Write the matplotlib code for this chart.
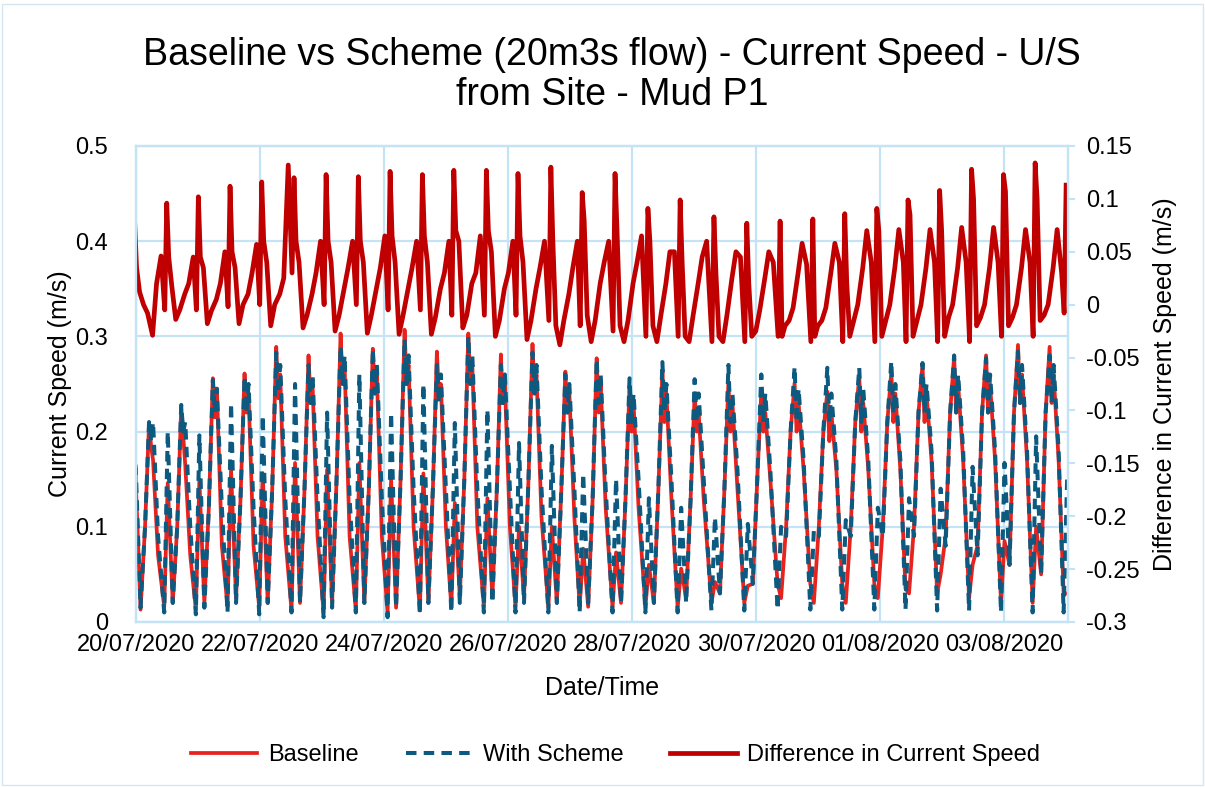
"""
Baseline vs scheme current speed at the U/S Mud P1 point, with the
difference on a second axis. Values read off the original Excel chart.
"""

import matplotlib
import numpy as np

matplotlib.use("Agg")
import matplotlib.pyplot as plt
from matplotlib.patches import Rectangle


START = np.datetime64("2020-07-20T00:00")
END_DAYS = 15.03

# time of each tidal cycle's difference spike (days after START)
cycle_days = [
    -0.024, 0.495, 1.005, 1.516, 2.027, 2.548, 3.065, 3.585, 4.097, 4.618,
    5.125, 5.650, 6.160, 6.690, 7.195, 7.725, 8.255, 8.775, 9.320, 9.850,
    10.387, 10.915, 11.430, 11.947, 12.450, 12.960, 13.475, 13.990, 14.500,
    15.000,
]

# hours from the spike to each key point of a cycle
speed_offsets_h = [-0.97, 0.39, 2.32, 4.06, 5.61, 6.39, 7.16, 9.10]
diff_offsets_h = [-0.77, 0.0, 0.77, 1.94, 3.48, 5.03, 6.97, 8.52, 10.26]

# per cycle: slack, ebb hump, slack, rise, peak, dip, shoulder, fall
baseline_cycles = [
    [0.020, 0.153, 0.013, 0.100, 0.209, 0.185, 0.170, 0.070],
    [0.016, 0.146, 0.020, 0.100, 0.226, 0.195, 0.165, 0.070],
    [0.013, 0.149, 0.020, 0.120, 0.256, 0.215, 0.245, 0.080],
    [0.016, 0.160, 0.025, 0.130, 0.261, 0.220, 0.240, 0.080],
    [0.015, 0.156, 0.020, 0.140, 0.289, 0.235, 0.260, 0.090],
    [0.012, 0.167, 0.020, 0.140, 0.280, 0.230, 0.250, 0.090],
    [0.010, 0.160, 0.020, 0.150, 0.303, 0.250, 0.270, 0.090],
    [0.012, 0.167, 0.020, 0.140, 0.287, 0.240, 0.260, 0.090],
    [0.010, 0.150, 0.015, 0.150, 0.307, 0.250, 0.270, 0.100],
    [0.012, 0.156, 0.020, 0.140, 0.284, 0.240, 0.250, 0.100],
    [0.016, 0.125, 0.026, 0.150, 0.303, 0.250, 0.270, 0.100],
    [0.016, 0.130, 0.026, 0.140, 0.281, 0.230, 0.250, 0.100],
    [0.016, 0.100, 0.025, 0.150, 0.292, 0.240, 0.260, 0.110],
    [0.015, 0.100, 0.020, 0.140, 0.263, 0.220, 0.240, 0.110],
    [0.016, 0.077, 0.016, 0.130, 0.277, 0.220, 0.250, 0.120],
    [0.015, 0.073, 0.020, 0.130, 0.247, 0.200, 0.230, 0.120],
    [0.015, 0.060, 0.020, 0.140, 0.263, 0.210, 0.240, 0.130],
    [0.015, 0.056, 0.025, 0.130, 0.240, 0.200, 0.220, 0.130],
    [0.020, 0.042, 0.030, 0.140, 0.252, 0.200, 0.230, 0.140],
    [0.020, 0.038, 0.040, 0.150, 0.242, 0.200, 0.220, 0.150],
    [0.040, 0.025, 0.100, 0.200, 0.251, 0.200, 0.230, 0.160],
    [0.040, 0.020, 0.100, 0.200, 0.242, 0.190, 0.220, 0.160],
    [0.040, 0.020, 0.100, 0.210, 0.258, 0.200, 0.230, 0.160],
    [0.040, 0.025, 0.100, 0.210, 0.263, 0.210, 0.240, 0.160],
    [0.035, 0.030, 0.100, 0.220, 0.270, 0.210, 0.240, 0.170],
    [0.030, 0.050, 0.090, 0.220, 0.279, 0.220, 0.250, 0.170],
    [0.025, 0.060, 0.080, 0.220, 0.280, 0.220, 0.250, 0.170],
    [0.020, 0.085, 0.060, 0.220, 0.291, 0.230, 0.260, 0.170],
    [0.020, 0.100, 0.050, 0.220, 0.289, 0.230, 0.260, 0.170],
    [0.030, 0.030],
]

scheme_cycles = [
    [0.020, 0.167, 0.015, 0.100, 0.210, 0.190, 0.210, 0.090],
    [0.010, 0.200, 0.020, 0.100, 0.228, 0.200, 0.210, 0.100],
    [0.008, 0.196, 0.015, 0.120, 0.254, 0.220, 0.245, 0.120],
    [0.010, 0.230, 0.020, 0.130, 0.258, 0.220, 0.250, 0.120],
    [0.008, 0.217, 0.020, 0.140, 0.283, 0.240, 0.270, 0.130],
    [0.010, 0.250, 0.020, 0.140, 0.270, 0.230, 0.260, 0.130],
    [0.005, 0.220, 0.015, 0.150, 0.290, 0.250, 0.280, 0.130],
    [0.010, 0.260, 0.020, 0.140, 0.287, 0.240, 0.270, 0.130],
    [0.005, 0.220, 0.015, 0.150, 0.297, 0.250, 0.280, 0.140],
    [0.008, 0.250, 0.020, 0.140, 0.270, 0.230, 0.260, 0.140],
    [0.010, 0.209, 0.020, 0.150, 0.300, 0.250, 0.280, 0.140],
    [0.010, 0.223, 0.020, 0.140, 0.270, 0.230, 0.260, 0.140],
    [0.010, 0.188, 0.020, 0.150, 0.283, 0.240, 0.270, 0.140],
    [0.010, 0.185, 0.020, 0.140, 0.260, 0.220, 0.250, 0.140],
    [0.010, 0.156, 0.020, 0.130, 0.276, 0.230, 0.260, 0.140],
    [0.010, 0.150, 0.020, 0.130, 0.256, 0.210, 0.240, 0.150],
    [0.010, 0.130, 0.020, 0.140, 0.273, 0.220, 0.250, 0.150],
    [0.010, 0.120, 0.020, 0.130, 0.255, 0.210, 0.240, 0.150],
    [0.012, 0.110, 0.030, 0.140, 0.270, 0.210, 0.240, 0.160],
    [0.012, 0.103, 0.040, 0.150, 0.260, 0.210, 0.240, 0.160],
    [0.013, 0.100, 0.090, 0.200, 0.268, 0.210, 0.245, 0.170],
    [0.013, 0.096, 0.090, 0.200, 0.267, 0.210, 0.240, 0.170],
    [0.013, 0.107, 0.090, 0.210, 0.267, 0.210, 0.245, 0.170],
    [0.013, 0.120, 0.090, 0.210, 0.274, 0.220, 0.250, 0.170],
    [0.013, 0.130, 0.090, 0.220, 0.272, 0.220, 0.250, 0.180],
    [0.012, 0.140, 0.080, 0.220, 0.280, 0.220, 0.260, 0.180],
    [0.012, 0.163, 0.070, 0.220, 0.277, 0.220, 0.260, 0.180],
    [0.010, 0.167, 0.060, 0.220, 0.284, 0.230, 0.270, 0.180],
    [0.010, 0.195, 0.050, 0.220, 0.280, 0.230, 0.270, 0.180],
    [0.010, 0.150],
]

# per cycle: dip, spike, after spike x2, low x2, ramp x3
difference_cycles = [
    [0.000, 0.080, 0.035, 0.012, 0.000, -0.008, -0.029, 0.020, 0.046],
    [-0.005, 0.096, 0.045, 0.018, -0.014, -0.005, 0.010, 0.020, 0.045],
    [-0.005, 0.102, 0.045, 0.035, -0.018, -0.006, 0.005, 0.020, 0.050],
    [-0.002, 0.112, 0.050, 0.035, -0.018, 0.000, 0.010, 0.030, 0.057],
    [0.000, 0.116, 0.060, 0.040, -0.020, 0.000, 0.010, 0.025, 0.132],
    [0.030, 0.120, 0.060, 0.040, -0.022, -0.010, 0.010, 0.030, 0.060],
    [0.000, 0.123, 0.060, 0.040, -0.025, -0.010, 0.015, 0.035, 0.060],
    [0.000, 0.121, 0.060, 0.040, -0.027, -0.010, 0.015, 0.035, 0.065],
    [-0.005, 0.126, 0.065, 0.040, -0.028, -0.010, 0.015, 0.035, 0.060],
    [-0.005, 0.123, 0.065, 0.040, -0.028, -0.012, 0.015, 0.030, 0.060],
    [-0.010, 0.127, 0.070, 0.060, -0.022, -0.010, 0.020, 0.030, 0.065],
    [-0.010, 0.127, 0.070, 0.050, -0.030, -0.015, 0.015, 0.030, 0.060],
    [-0.010, 0.124, 0.065, 0.040, -0.033, -0.015, 0.015, 0.035, 0.060],
    [-0.015, 0.130, 0.060, -0.020, -0.038, -0.015, 0.010, 0.035, 0.060],
    [-0.020, 0.106, 0.080, -0.010, -0.035, -0.015, 0.020, 0.040, 0.060],
    [-0.025, 0.124, 0.070, -0.020, -0.035, -0.015, 0.020, 0.040, 0.065],
    [-0.030, 0.091, 0.060, -0.020, -0.035, -0.010, 0.020, 0.050, 0.050],
    [-0.030, 0.099, 0.040, -0.030, -0.035, -0.010, 0.020, 0.045, 0.060],
    [-0.035, 0.083, 0.030, -0.030, -0.035, -0.010, 0.025, 0.050, 0.045],
    [-0.035, 0.077, 0.020, -0.030, -0.025, -0.005, 0.025, 0.050, 0.040],
    [-0.030, 0.079, -0.030, -0.020, -0.015, -0.003, 0.030, 0.058, 0.038],
    [-0.035, 0.081, -0.030, -0.020, -0.015, -0.003, 0.030, 0.058, 0.040],
    [-0.035, 0.086, 0.020, -0.030, -0.015, 0.000, 0.035, 0.070, 0.040],
    [-0.035, 0.091, 0.070, -0.030, -0.015, 0.000, 0.035, 0.071, 0.040],
    [-0.035, 0.099, 0.085, -0.030, -0.015, 0.000, 0.035, 0.071, 0.040],
    [-0.035, 0.108, 0.070, -0.030, -0.012, 0.000, 0.035, 0.073, 0.040],
    [-0.035, 0.128, 0.100, -0.020, -0.012, 0.000, 0.035, 0.073, 0.040],
    [-0.030, 0.123, 0.107, -0.020, -0.012, 0.000, 0.035, 0.071, 0.040],
    [-0.030, 0.134, 0.100, -0.015, -0.010, 0.000, 0.035, 0.071, 0.030],
    [-0.008, 0.113],
]

tick_dates = [
    "2020-07-20", "2020-07-22", "2020-07-24", "2020-07-26",
    "2020-07-28", "2020-07-30", "2020-08-01", "2020-08-03",
]
tick_labels = [
    "20/07/2020", "22/07/2020", "24/07/2020", "26/07/2020",
    "28/07/2020", "30/07/2020", "01/08/2020", "03/08/2020",
]

GRID = "#C4E4F6"
RED = "#E8231E"
TEAL = "#0D5A80"
DARK_RED = "#C00000"


def build_series(cycles, offsets_h):
    """Turn the per-cycle key points into one time series."""
    times = []
    values = []

    for day, row in zip(cycle_days, cycles):
        for offset, value in zip(offsets_h, row):
            seconds = int(round((day * 24 + offset) * 3600))
            times.append(START + np.timedelta64(seconds, "s"))
            values.append(value)

    return np.array(times), np.array(values)


def main():
    plt.rcParams["font.family"] = ["Liberation Sans", "DejaVu Sans"]

    speed_time, baseline = build_series(baseline_cycles, speed_offsets_h)
    _, scheme = build_series(scheme_cycles, speed_offsets_h)
    diff_time, difference = build_series(difference_cycles, diff_offsets_h)

    figure = plt.figure(figsize=(12.05, 7.87), dpi=100)
    axis = figure.add_axes([0.1129, 0.2097, 0.7734, 0.6048])
    right = axis.twinx()

    line_base, = axis.plot(
        speed_time, baseline, color=RED, linewidth=2.7, label="Baseline"
    )
    line_scheme, = axis.plot(
        speed_time, scheme, color=TEAL, linewidth=2.9,
        linestyle=(0, (2.6, 1.8)), label="With Scheme",
    )
    line_diff, = right.plot(
        diff_time, difference, color=DARK_RED, linewidth=3.4,
        label="Difference in Current Speed",
    )

    axis.set_xlim(START, START + np.timedelta64(int(END_DAYS * 86400), "s"))
    axis.set_ylim(0, 0.5)
    right.set_ylim(-0.3, 0.15)

    axis.set_xticks([np.datetime64(d) for d in tick_dates])
    axis.set_xticklabels(tick_labels)
    axis.set_yticks(np.arange(0, 0.51, 0.1))
    axis.set_yticklabels(["0", "0.1", "0.2", "0.3", "0.4", "0.5"])
    right.set_yticks(np.arange(-0.3, 0.151, 0.05))
    right.set_yticklabels(
        ["-0.3", "-0.25", "-0.2", "-0.15", "-0.1", "-0.05",
         "0", "0.05", "0.1", "0.15"]
    )

    axis.grid(True, color=GRID, linewidth=1.6)
    axis.set_axisbelow(True)

    axis.tick_params(axis="x", length=0, labelsize=17, pad=9, colors="black")
    axis.tick_params(axis="y", length=0, labelsize=17, pad=20)
    right.tick_params(
        axis="y", length=5, width=1.5, color=GRID, labelsize=17, pad=8
    )

    for ax in (axis, right):
        for spine in ax.spines.values():
            spine.set_color(GRID)
            spine.set_linewidth(1.6)

    axis.set_ylabel("Current Speed (m/s)", fontsize=18, va="center")
    axis.yaxis.set_label_coords(-0.0815, 0.5)
    right.set_ylabel(
        "Difference in Current Speed (m/s)", fontsize=18, va="center"
    )
    right.yaxis.set_label_coords(1.104, 0.5)
    axis.set_xlabel("Date/Time", fontsize=18, va="center")
    axis.xaxis.set_label_coords(0.5, -0.139)

    figure.text(
        0.508, 0.905,
        "Baseline vs Scheme (20m3s flow) - Current Speed - U/S\n"
        "from Site - Mud P1",
        ha="center", va="center", fontsize=27, linespacing=1.15,
    )

    figure.legend(
        handles=[line_base, line_scheme, line_diff],
        loc="center",
        bbox_to_anchor=(0.511, 1 - 755 / 787),
        ncol=3,
        frameon=False,
        fontsize=17,
        handlelength=2.8,
        handletextpad=0.45,
        columnspacing=2.0,
    )

    figure.add_artist(
        Rectangle(
            (0.002, 0.002), 0.996, 0.993,
            transform=figure.transFigure,
            fill=False, edgecolor="#D6E6F0", linewidth=1.0,
        )
    )

    figure.savefig("out.png", dpi=100)
    plt.close(figure)


if __name__ == "__main__":
    main()
